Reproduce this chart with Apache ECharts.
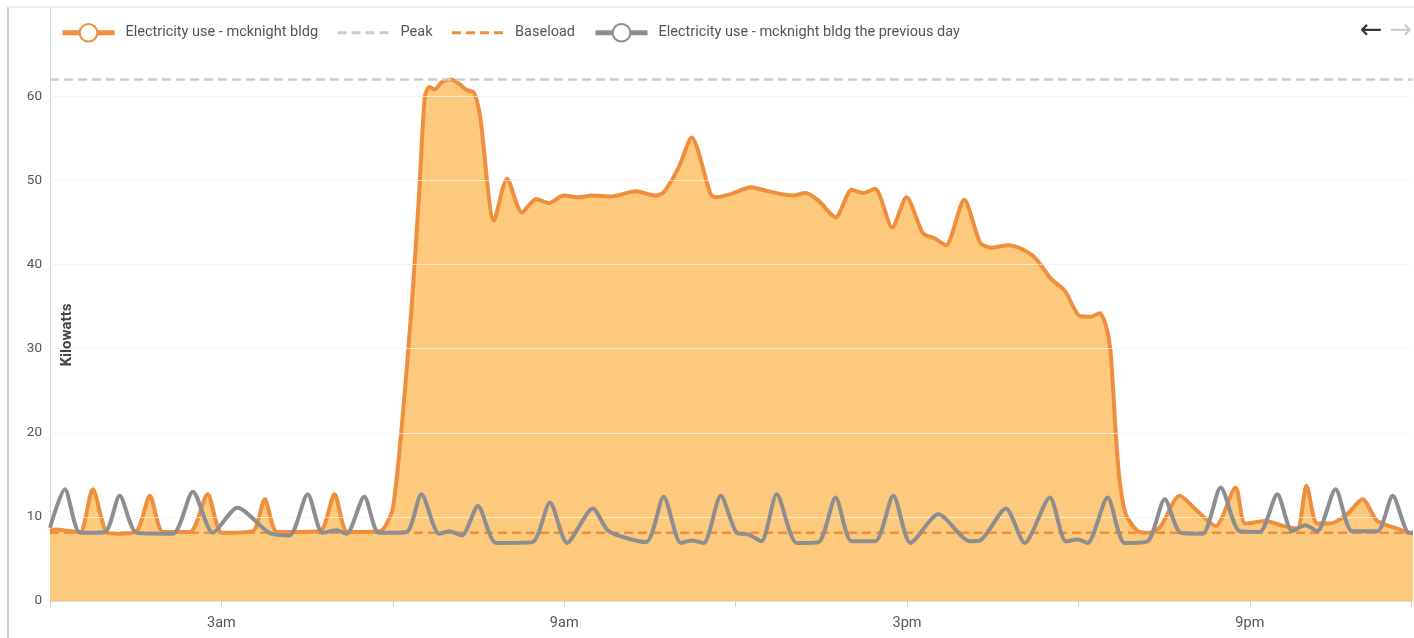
<!DOCTYPE html>
<html>
<head>
<meta charset="utf-8">
<title>Electricity use - mcknight bldg</title>
<script src="https://cdn.jsdelivr.net/npm/echarts@6/dist/echarts.min.js"></script>
<style>
  html, body { margin: 0; padding: 0; background: #ffffff; }
  #chart { width: 1414px; height: 638px; }
</style>
</head>
<body>
<div id="chart"></div>
<script>
// Hour of day (0-24) for each reading of today's load
const todayHours = [
  0.00, 0.09, 0.35, 0.53, 0.75, 1.00, 1.22, 1.52, 1.75, 1.98, 2.45, 2.76, 3.01, 3.55, 3.76, 3.98,
  4.72, 4.98, 5.21, 5.76, 5.85, 6.00, 6.16, 6.33, 6.46, 6.56, 6.64, 6.73, 6.86, 7.02, 7.16,
  7.28, 7.42, 7.53, 7.77, 8.00, 8.26, 8.51, 8.73, 8.99, 9.26, 9.48, 9.83, 10.25, 10.60, 10.74,
  11.00, 11.23, 11.56, 11.65, 11.93, 12.26, 12.58, 13.01, 13.22, 13.45, 13.75, 14.03, 14.23,
  14.44, 14.74, 14.99, 15.28, 15.49, 15.68, 16.00, 16.28, 16.47, 16.77, 16.99, 17.24, 17.52, 17.76,
  18.02, 18.22, 18.37, 18.47, 18.56, 18.65, 18.72, 18.83, 19.04, 19.26, 19.44, 19.77, 20.08,
  20.40, 20.75, 20.92, 21.26, 21.60, 21.83, 21.99, 22.18, 22.41, 22.70, 22.97, 23.23, 23.58, 23.79, 24.00
];
// Today's load, kW
const todayKw = [
  8.3, 8.5, 8.3, 8.2, 13.3, 8.1, 8.0, 8.3, 12.5, 8.2, 8.2, 12.7, 8.1, 8.3, 12.1, 8.2,
  8.3, 12.7, 8.2, 8.3, 8.7, 11.0, 21.0, 35.0, 48.4, 60.0, 61.1, 60.8, 61.7, 62.0, 61.5,
  60.8, 60.4, 57.5, 45.2, 50.2, 46.2, 47.8, 47.3, 48.2, 48.0, 48.2, 48.1, 48.7, 48.2, 48.6,
  51.5, 55.1, 48.4, 48.0, 48.4, 49.2, 48.7, 48.2, 48.5, 47.6, 45.6, 48.9, 48.5,
  49.0, 44.4, 48.0, 43.7, 43.1, 42.3, 47.7, 42.6, 42.0, 42.3, 41.9, 40.8, 38.3, 36.9,
  33.9, 33.8, 34.2, 33.0, 29.8, 20.2, 14.3, 10.3, 8.3, 8.1, 8.9, 12.5, 10.7,
  8.9, 13.5, 9.2, 9.5, 8.9, 8.6, 13.7, 9.2, 9.2, 10.3, 12.1, 9.5, 8.6, 8.1, 8.0
];

// Hour of day for each reading of the previous day's load
const prevHours = [
  0.00, 0.26, 0.53, 0.96, 1.22, 1.52, 2.15, 2.50, 2.85, 3.28, 3.84, 4.19, 4.51, 4.77, 5.01, 5.19,
  5.50, 5.76, 6.24, 6.50, 6.81, 6.99, 7.21, 7.49, 7.81, 8.44, 8.75, 9.05, 9.50, 9.78, 10.43, 10.74,
  11.04, 11.23, 11.44, 11.74, 12.02, 12.23, 12.45, 12.72, 13.07, 13.45, 13.75, 14.03, 14.44, 14.76,
  15.06, 15.55, 16.10, 16.28, 16.73, 17.06, 17.50, 17.78, 17.99, 18.16, 18.51, 18.81, 19.21, 19.51,
  19.79, 20.17, 20.49, 20.82, 21.17, 21.48, 21.74, 21.97, 22.18, 22.50, 22.79, 23.23, 23.50, 23.79, 24.00
];
// Previous day's load, kW
const prevKw = [
  8.7, 13.3, 8.1, 8.2, 12.5, 8.1, 8.0, 13.0, 8.1, 11.1, 8.1, 7.8, 12.7, 8.1, 8.4, 8.0,
  12.4, 8.1, 8.2, 12.7, 8.0, 8.3, 7.8, 11.3, 6.9, 7.0, 11.7, 6.9, 11.0, 8.3, 7.0, 12.4,
  6.9, 7.2, 6.9, 12.5, 8.1, 7.9, 7.1, 12.7, 6.9, 7.0, 12.3, 7.1, 7.1, 12.5,
  6.9, 10.3, 7.1, 7.2, 11.0, 6.9, 12.3, 7.1, 7.3, 6.9, 12.3, 6.9, 7.1, 12.1,
  8.1, 8.0, 13.5, 8.3, 8.2, 12.7, 8.3, 9.0, 8.3, 13.3, 8.3, 8.3, 12.5, 8.1, 8.2
];

const peakKw = 62.0;
const baseloadKw = 8.1;

// Visible span of the day (the view stops a little before midnight)
const viewStartHour = 0;
const viewEndHour = 23.82;
const hourLabels = { 3: '3am', 9: '9am', 15: '3pm', 21: '9pm' };
const yTickLabels = ['0', '10', '20', '30', '40', '50', '60'];

const seriesNames = [
  'Electricity use - mcknight bldg',
  'Peak',
  'Baseload',
  'Electricity use - mcknight bldg the previous day'
];

const ORANGE = '#ef8f3d';
const FILL = '#fdca7d';
const GREY = '#8e8e8e';
const PEAK_GREY = '#cccccc';
const FONT = 'Roboto, "Noto Sans", sans-serif';

const pairs = (xs, ys) => xs.map((x, i) => [x, ys[i]]);
const dayStart = todayHours[0];
const dayEnd = todayHours[todayHours.length - 1];

const chart = echarts.init(document.getElementById('chart'), null, { renderer: 'canvas' });

const yBase = {
  type: 'value',
  min: 0,
  max: 70.5,
  interval: 10
};

const hiddenSymbol = { opacity: 0 };
const legendRing = { borderWidth: 3.5 };
const legendSolid = { width: 5 };
const legendDash = { width: 3, type: [9, 5] };

chart.setOption({
  animation: false,
  backgroundColor: '#ffffff',
  textStyle: { fontFamily: FONT },
  grid: { left: 50, right: 0, top: 8, bottom: 37, containLabel: false },
  legend: {
    data: [
      { name: seriesNames[0], itemStyle: legendRing, lineStyle: legendSolid },
      { name: seriesNames[1], itemStyle: hiddenSymbol, lineStyle: legendDash },
      { name: seriesNames[2], itemStyle: hiddenSymbol, lineStyle: legendDash },
      { name: seriesNames[3], itemStyle: legendRing, lineStyle: legendSolid }
    ],
    left: 55,
    top: 18,
    itemWidth: 52,
    itemHeight: 22,
    itemGap: 18,
    textStyle: { color: '#555555', fontSize: 14.5, fontFamily: FONT, padding: [0, 0, 0, 6] }
  },
  xAxis: {
    type: 'value',
    min: viewStartHour,
    max: viewEndHour,
    interval: 3,
    axisLine: { show: true, lineStyle: { color: '#dcdcdc', width: 2 } },
    axisTick: { show: true, length: 6, lineStyle: { color: '#cfcfcf', width: 1 } },
    splitLine: { show: false },
    axisLabel: {
      color: '#555555',
      fontSize: 14.5,
      margin: 15,
      fontFamily: FONT,
      formatter: v => hourLabels[v] || ''
    }
  },
  yAxis: [
    Object.assign({}, yBase, {
      axisLine: { show: true, lineStyle: { color: '#d6d6d6', width: 1 } },
      axisTick: { show: false },
      axisLabel: {
        color: '#555555',
        fontSize: 13.5,
        margin: 8,
        fontFamily: FONT,
        formatter: v => (yTickLabels.indexOf(String(v)) >= 0 ? String(v) : '')
      },
      splitLine: {
        show: true,
        lineStyle: {
          color: ['#e6e6e6', '#e6e6e6', '#e6e6e6', '#e6e6e6', '#e6e6e6', '#e6e6e6', '#e6e6e6',
                  'rgba(0,0,0,0)', 'rgba(0,0,0,0)'],
          width: 1
        }
      }
    }),
    // Same scale again, only to lay faint grid lines over the filled area
    Object.assign({}, yBase, {
      z: 3,
      axisLine: { show: false },
      axisTick: { show: false },
      axisLabel: { show: false },
      splitLine: {
        show: true,
        lineStyle: {
          color: ['rgba(255,255,255,0)', 'rgba(255,255,255,0.6)', 'rgba(255,255,255,0.6)',
                  'rgba(255,255,255,0.6)', 'rgba(255,255,255,0.6)', 'rgba(255,255,255,0.6)',
                  'rgba(255,255,255,0.6)', 'rgba(255,255,255,0)', 'rgba(255,255,255,0)'],
          width: 1
        }
      }
    })
  ],
  series: [
    {
      name: seriesNames[0],
      type: 'line',
      z: 2,
      data: pairs(todayHours, todayKw),
      smooth: 0.25,
      symbol: 'emptyCircle',
      symbolSize: 14,
      showSymbol: false,
      color: ORANGE,
      itemStyle: { color: ORANGE, borderWidth: 4 },
      lineStyle: { color: ORANGE, width: 4 },
      areaStyle: { color: FILL, opacity: 1 }
    },
    {
      name: seriesNames[1],
      type: 'line',
      z: 4,
      data: [[dayStart, peakKw], [dayEnd, peakKw]],
      symbol: 'none',
      color: PEAK_GREY,
      lineStyle: { color: PEAK_GREY, width: 2.5, type: [9, 5] }
    },
    {
      name: seriesNames[2],
      type: 'line',
      z: 4,
      data: [[dayStart, baseloadKw], [dayEnd, baseloadKw]],
      symbol: 'none',
      color: ORANGE,
      lineStyle: { color: ORANGE, width: 2.5, type: [9, 5] }
    },
    {
      name: seriesNames[3],
      type: 'line',
      z: 5,
      data: pairs(prevHours, prevKw),
      smooth: 0.25,
      symbol: 'emptyCircle',
      symbolSize: 14,
      showSymbol: false,
      color: GREY,
      itemStyle: { color: GREY, borderWidth: 4 },
      lineStyle: { color: GREY, width: 4 }
    }
  ],
  graphic: [
    // outer frame
    { type: 'line', silent: true, z: 10,
      shape: { x1: 8, y1: 7, x2: 8, y2: 638 }, style: { stroke: '#cfcfcf', lineWidth: 2 } },
    { type: 'line', silent: true, z: 10,
      shape: { x1: 8, y1: 7, x2: 1414, y2: 7 }, style: { stroke: '#dddddd', lineWidth: 1 } },
    // axis title
    { type: 'text', silent: true, z: 10, x: 67, y: 335, rotation: Math.PI / 2,
      style: { text: 'Kilowatts', fill: '#444444', font: 'bold 15px ' + FONT,
               align: 'center', verticalAlign: 'middle' } },
    // day navigation arrows
    { type: 'text', silent: true, z: 10, x: 1371, y: 31,
      style: { text: '\u2190', fill: '#333333', font: '27px "DejaVu Sans", sans-serif',
               align: 'center', verticalAlign: 'middle' } },
    { type: 'text', silent: true, z: 10, x: 1401, y: 31,
      style: { text: '\u2192', fill: '#cccccc', font: '27px "DejaVu Sans", sans-serif',
               align: 'center', verticalAlign: 'middle' } }
  ]
});
</script>
</body>
</html>
